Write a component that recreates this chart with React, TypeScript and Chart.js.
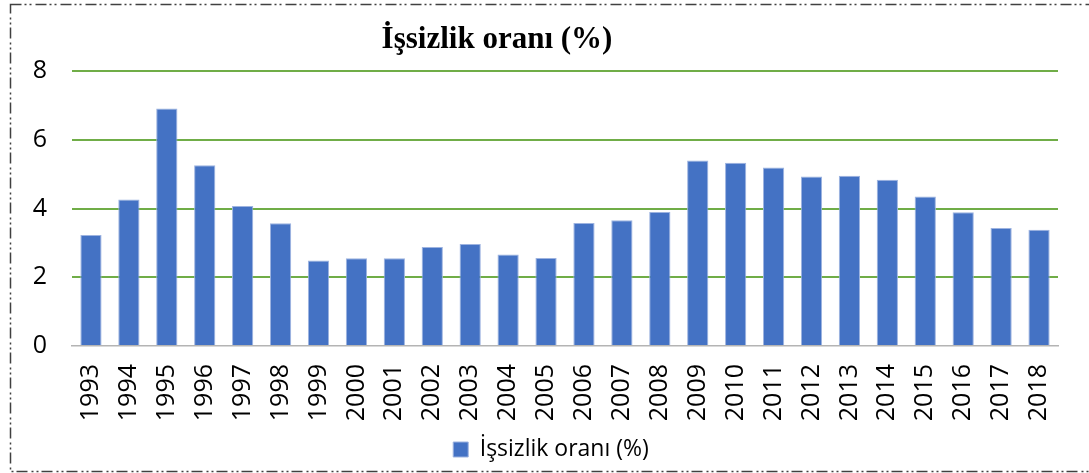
import React, { useEffect, useRef } from "react";
import { Chart, registerables } from "chart.js";

Chart.register(...registerables);

const titleText = "İşsizlik oranı (%)";
const seriesLabel = "İşsizlik oranı (%)";
const years = [
  "1993", "1994", "1995", "1996", "1997", "1998", "1999", "2000", "2001",
  "2002", "2003", "2004", "2005", "2006", "2007", "2008", "2009", "2010",
  "2011", "2012", "2013", "2014", "2015", "2016", "2017", "2018",
];
const rates = [
  3.23, 4.26, 6.91, 5.26, 4.07, 3.57, 2.49, 2.55, 2.55,
  2.88, 2.97, 2.66, 2.56, 3.58, 3.66, 3.9, 5.4, 5.33,
  5.19, 4.93, 4.95, 4.84, 4.35, 3.89, 3.43, 3.38,
];
const yMin = 0;
const yMax = 8;
const yStep = 2;

const decorPlugin = {
  id: "decor",
  afterLayout(chart: any) {
    if (chart.legend) {
      chart.legend.left += 14;
      chart.legend.right += 14;
    }
  },
  afterDraw(chart: any) {
    const ctx = chart.ctx;
    ctx.save();
    // title
    ctx.font = 'bold 31px "Liberation Serif", "Times New Roman", serif';
    ctx.fillStyle = "#000000";
    ctx.textAlign = "center";
    ctx.textBaseline = "alphabetic";
    ctx.fillText(titleText, 497, 48);
    // dash-dot-dot frame
    ctx.strokeStyle = "#404040";
    ctx.lineWidth = 1.5;
    ctx.setLineDash([11, 3, 2, 3, 2, 4]);
    ctx.strokeRect(10.5, 4.5, 1100, 467);
    ctx.restore();
  },
};

export default function App() {
  const ref = useRef<HTMLCanvasElement | null>(null);

  useEffect(() => {
    if (!ref.current) return;
    const chart = new Chart(ref.current, {
      type: "bar",
      data: {
        labels: years,
        datasets: [
          {
            label: seriesLabel,
            data: rates,
            backgroundColor: "#4472C4",
            borderColor: "#9DB3E0",
            borderWidth: 1,
            barPercentage: 0.56,
            categoryPercentage: 1,
          },
        ],
      },
      options: {
        responsive: false,
        animation: false,
        layout: { padding: { left: 16, right: 31, top: 71, bottom: 2 } },
        plugins: {
          title: { display: false },
          tooltip: { enabled: false },
          legend: {
            display: true,
            position: "bottom",
            labels: {
              boxWidth: 15,
              boxHeight: 15,
              color: "#000000",
              padding: 10,
              font: { family: '"Open Sans", sans-serif', size: 23 },
            },
          },
        },
        scales: {
          x: {
            grid: { display: false, drawTicks: false },
            border: { display: true, color: "#B4B4B4", width: 1.5 },
            ticks: {
              color: "#000000",
              minRotation: 90,
              maxRotation: 90,
              autoSkip: false,
              padding: 18,
              font: { family: '"Open Sans", sans-serif', size: 25 },
            },
            afterFit: (scale: any) => {
              scale.height = 82;
            },
          },
          y: {
            min: yMin,
            max: yMax,
            grid: {
              drawTicks: false,
              lineWidth: 2,
              color: (c: any) => (c.tick && c.tick.value === 0 ? "rgba(0,0,0,0)" : "#70AD47"),
            },
            border: { display: false },
            ticks: {
              stepSize: yStep,
              color: "#000000",
              padding: 25,
              font: { family: '"Open Sans", sans-serif', size: 25 },
            },
            afterFit: (scale: any) => {
              scale.width = 56;
            },
          },
        },
      },
      plugins: [decorPlugin],
    });
    return () => chart.destroy();
  }, []);

  return (
    <div style={{ position: "absolute", left: 0, top: 0, width: 1089, height: 473, background: "#ffffff" }}>
      <canvas ref={ref} width={1089} height={473} />
    </div>
  );
}
